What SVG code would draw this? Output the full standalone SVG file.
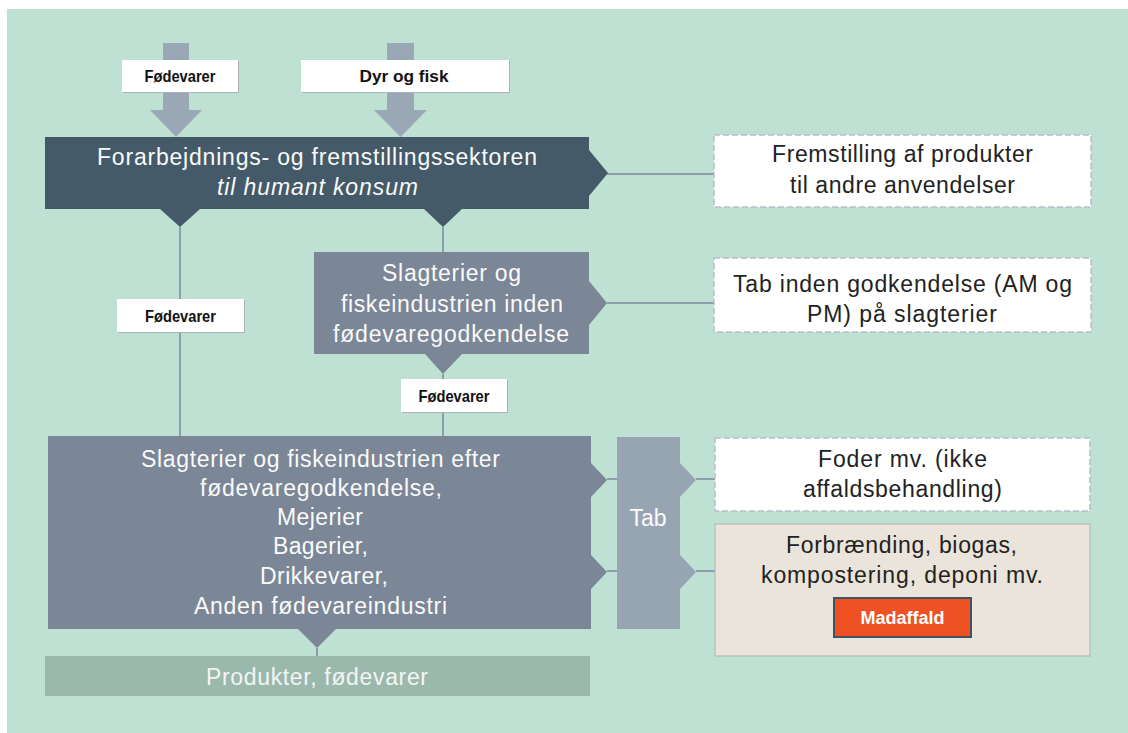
<svg xmlns="http://www.w3.org/2000/svg" width="1128" height="733" viewBox="0 0 1128 733">
<style>
.t{font-family:"Liberation Sans",Arial,sans-serif;font-size:23px;text-anchor:middle}
.w{fill:#fafafa}
.k{fill:#222222}
.lbl{font-family:"Liberation Sans",Arial,sans-serif;font-size:17px;font-weight:bold;fill:#111111;text-anchor:middle}
.conn{stroke:#8d9dab;stroke-width:2;fill:none}
.dash{fill:#ffffff;stroke:#b5bec7;stroke-width:1.5;stroke-dasharray:6 3}
.lbox{fill:#ffffff}
.lsh{fill:#aab4b8}
</style>
<rect x="0" y="0" width="1128" height="733" fill="#ffffff"/>
<rect x="7" y="9" width="1121" height="724" fill="#bfe1d3"/>

<g id="connectors">
<polygon points="163,43 189,43 189,110 202,110 176,137 150,110 163,110" fill="#9aa8b6"/>
<polygon points="387,43 414,43 414,110 427,110 400.5,137 374,110 387,110" fill="#9aa8b6"/>
<line class="conn" x1="180" y1="227" x2="180" y2="436"/>
<line class="conn" x1="443" y1="227" x2="443" y2="252"/>
<line class="conn" x1="443" y1="374" x2="443" y2="436"/>
<line class="conn" x1="317" y1="648" x2="317" y2="656"/>
<line class="conn" x1="607" y1="174" x2="714" y2="174"/>
<line class="conn" x1="607" y1="303" x2="714" y2="303"/>
<line class="conn" x1="607" y1="479" x2="617" y2="479"/>
<line class="conn" x1="607" y1="571" x2="617" y2="571"/>
<line class="conn" x1="696" y1="479" x2="715" y2="479"/>
<line class="conn" x1="696" y1="571" x2="715" y2="571"/>
</g>

<g id="label-fodevarer-top">
<rect class="lsh" x="123" y="61" width="116" height="32"/>
<rect class="lbox" x="122" y="60" width="116" height="32"/>
<text class="lbl" x="180" y="82" textLength="71" lengthAdjust="spacingAndGlyphs">Fødevarer</text>
</g>
<g id="label-dyr">
<rect class="lsh" x="302" y="61" width="208" height="32"/>
<rect class="lbox" x="301" y="60" width="208" height="32"/>
<text class="lbl" x="404" y="82" textLength="89" lengthAdjust="spacingAndGlyphs">Dyr og fisk</text>
</g>

<g id="node-forarbejdning">
<path d="M45,137 H589 V150 L608,173 L589,196 V209 H462 L443,227 L424,209 H200 L180,227 L160,209 H45 Z" fill="#445a69"/>
<text class="t w" x="317" y="165" textLength="440" lengthAdjust="spacing">Forarbejdnings- og fremstillingssektoren</text>
<text class="t w" x="317.5" y="195" font-style="italic" textLength="201" lengthAdjust="spacing">til humant konsum</text>
</g>

<g id="node-fremstilling">
<rect class="dash" x="714" y="135" width="377" height="72"/>
<text class="t k" x="902.5" y="162" textLength="261" lengthAdjust="spacing">Fremstilling af produkter</text>
<text class="t k" x="902.5" y="193" textLength="225" lengthAdjust="spacing">til andre anvendelser</text>
</g>

<g id="node-slagterier-inden">
<path d="M314,252 H589 V281 L607,303 L589,325 V354 H462 L443,374 L425,354 H314 Z" fill="#7b8796"/>
<text class="t w" x="451.5" y="281" textLength="139" lengthAdjust="spacing">Slagterier og</text>
<text class="t w" x="452" y="312" textLength="222" lengthAdjust="spacing">fiskeindustrien inden</text>
<text class="t w" x="451" y="342" textLength="236" lengthAdjust="spacing">fødevaregodkendelse</text>
</g>

<g id="node-tab-inden">
<rect class="dash" x="714" y="258" width="377" height="74"/>
<text class="t k" x="902.5" y="292" textLength="339" lengthAdjust="spacing">Tab inden godkendelse (AM og</text>
<text class="t k" x="902" y="322" textLength="190" lengthAdjust="spacing">PM) på slagterier</text>
</g>

<g id="label-fodevarer-left">
<rect class="lsh" x="118" y="300" width="127" height="33"/>
<rect class="lbox" x="117" y="299" width="127" height="33"/>
<text class="lbl" x="180.5" y="322" textLength="71" lengthAdjust="spacingAndGlyphs">Fødevarer</text>
</g>
<g id="label-fodevarer-mid">
<rect class="lsh" x="402" y="380" width="106" height="33"/>
<rect class="lbox" x="401" y="379" width="106" height="33"/>
<text class="lbl" x="454" y="402" textLength="71" lengthAdjust="spacingAndGlyphs">Fødevarer</text>
</g>

<g id="node-slagterier-efter">
<path d="M48,436 H591 V463 L607,480 L591,497 V555 L607,572 L591,589 V629 H336 L317,648 L298,629 H48 Z" fill="#7b8796"/>
<text class="t w" x="320.5" y="467" textLength="359" lengthAdjust="spacing">Slagterier og fiskeindustrien efter</text>
<text class="t w" x="321" y="496" textLength="242" lengthAdjust="spacing">fødevaregodkendelse,</text>
<text class="t w" x="320" y="525" textLength="86" lengthAdjust="spacing">Mejerier</text>
<text class="t w" x="320.5" y="554" textLength="95" lengthAdjust="spacing">Bagerier,</text>
<text class="t w" x="324" y="584" textLength="128" lengthAdjust="spacing">Drikkevarer,</text>
<text class="t w" x="320.5" y="614" textLength="253" lengthAdjust="spacing">Anden fødevareindustri</text>
</g>

<g id="node-tab">
<path d="M617,437 H680 V463 L696,480 L680,497 V555 L696,572 L680,589 V629 H617 Z" fill="#97a5b3"/>
<text class="t w" x="648" y="526" font-size="22">Tab</text>
</g>

<g id="node-foder">
<rect class="dash" x="715" y="438" width="375" height="73"/>
<text class="t k" x="902.5" y="467" textLength="169" lengthAdjust="spacing">Foder mv. (ikke</text>
<text class="t k" x="902.5" y="497" textLength="199" lengthAdjust="spacing">affaldsbehandling)</text>
</g>

<g id="node-forbraending">
<rect x="715" y="524" width="375" height="132" fill="#ebe4da" stroke="#a9b7b1" stroke-width="1"/>
<text class="t k" x="901.5" y="553" textLength="231" lengthAdjust="spacing">Forbrænding, biogas,</text>
<text class="t k" x="902" y="583" textLength="282" lengthAdjust="spacing">kompostering, deponi mv.</text>
</g>

<g id="node-madaffald">
<rect x="834" y="598" width="137" height="39" fill="#ef5024" stroke="#3e5464" stroke-width="2"/>
<text x="902.5" y="624" font-family="'Liberation Sans',Arial,sans-serif" font-size="18" font-weight="bold" fill="#ffffff" text-anchor="middle">Madaffald</text>
</g>

<g id="node-produkter">
<rect x="45" y="656" width="545" height="40" fill="#9bb8ad"/>
<text class="t" x="317" y="685" fill="#f3f5f4" textLength="222" lengthAdjust="spacing">Produkter, fødevarer</text>
</g>
</svg>
